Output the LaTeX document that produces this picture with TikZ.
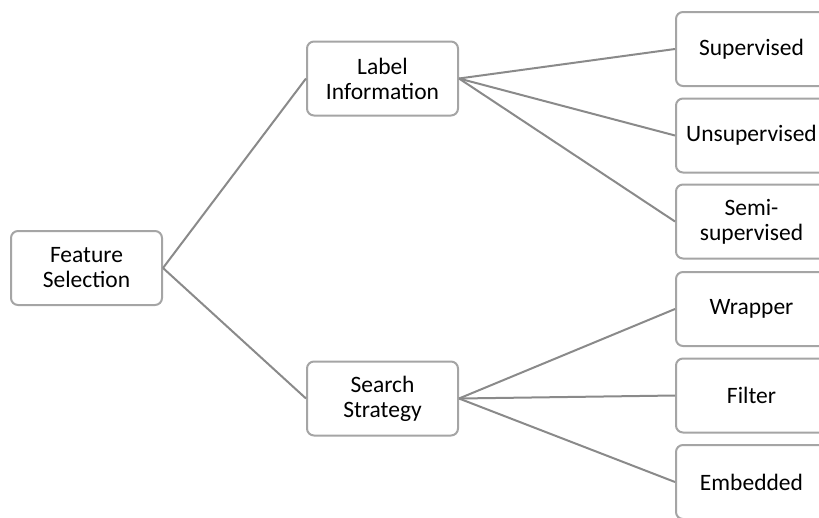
\documentclass[tikz,border=0pt]{standalone}
\usepackage{fontspec}
\setmainfont{Carlito}
\definecolor{boxline}{RGB}{165,165,165}
\definecolor{linkline}{RGB}{138,138,138}
\begin{document}
\begin{tikzpicture}[x=1pt,y=-1pt,
  box/.style={draw=boxline, line width=2pt, fill=white, rounded corners=7pt,
    minimum width=151pt, minimum height=74pt, inner sep=0pt, align=center,
    font=\fontsize{23.5}{25}\selectfont},
  link/.style={draw=linkline, line width=2pt}]
  \useasboundingbox (0,0) rectangle (819,517);
  \clip (0,0) rectangle (819,517);

  % hierarchy of feature selection categories
  \node[box] (fs)  at (86.5,268)   {Feature\\Selection};
  \node[box] (li)  at (382.5,78.5) {Label\\Information};
  \node[box] (ss)  at (382.5,398.5){Search\\Strategy};

  \node[box] (sup)  at (751.5,49)    {Supervised};
  \node[box] (uns)  at (751.5,135.5) {Unsupervised};
  \node[box] (semi) at (751.5,221.5) {Semi-\\supervised};
  \node[box] (wra)  at (751.5,309)   {Wrapper};
  \node[box] (fil)  at (751.5,395.5) {Filter};
  \node[box] (emb)  at (751.5,482)   {Embedded};

  \draw[link] (fs.east) -- (li.west);
  \draw[link] (fs.east) -- (ss.west);
  \foreach \t in {sup,uns,semi} \draw[link] (li.east) -- (\t.west);
  \foreach \t in {wra,fil,emb} \draw[link] (ss.east) -- (\t.west);
\end{tikzpicture}
\end{document}
